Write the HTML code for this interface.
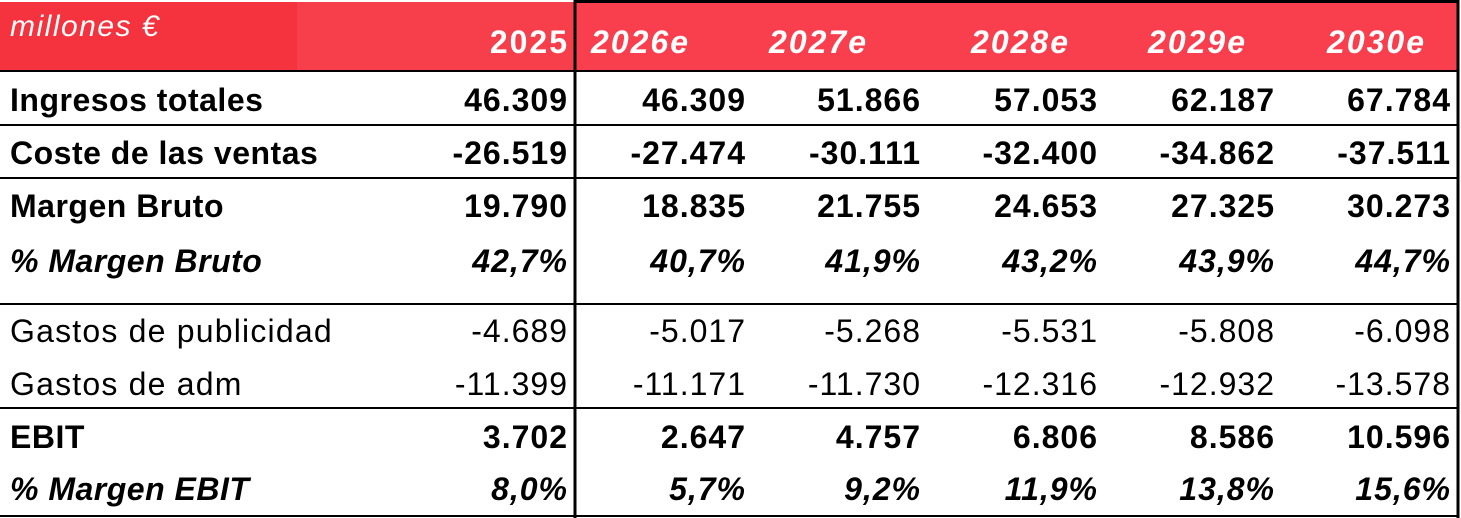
<!DOCTYPE html>
<html><head><meta charset="utf-8"><style>
body{margin:0;width:1461px;height:518px;background:#fff;overflow:hidden;font-family:"Liberation Sans",sans-serif}
</style></head><body>
<svg width="1461" height="518" style="display:block">
<rect x="0" y="2" width="297" height="69" fill="#F5333F"/>
<rect x="297" y="2" width="278" height="69" fill="#F73F4C"/>
<rect x="575" y="2" width="882" height="69" fill="#F93F4E"/>
<text x="10" y="36" font-size="30" font-style="italic" letter-spacing="1.5" fill="#fff">millones €</text>
<g id="hdr" font-size="32" font-weight="bold" font-style="italic" letter-spacing="2" fill="#fff" text-anchor="end"></g>
<g id="lines" stroke="#000"></g>
<g id="body" font-size="32" fill="#000"></g>
</svg>
<script>
const years=["2025","2026e","2027e","2028e","2029e","2030e"];
const labels=["Ingresos totales","Coste de las ventas","Margen Bruto","% Margen Bruto","Gastos de publicidad","Gastos de adm","EBIT","% Margen EBIT"];
const values=[
["46.309","46.309","51.866","57.053","62.187","67.784"],
["-26.519","-27.474","-30.111","-32.400","-34.862","-37.511"],
["19.790","18.835","21.755","24.653","27.325","30.273"],
["42,7%","40,7%","41,9%","43,2%","43,9%","44,7%"],
["-4.689","-5.017","-5.268","-5.531","-5.808","-6.098"],
["-11.399","-11.171","-11.730","-12.316","-12.932","-13.578"],
["3.702","2.647","4.757","6.806","8.586","10.596"],
["8,0%","5,7%","9,2%","11,9%","13,8%","15,6%"]];
const styles=["b","b","b","bi","n","n","b","bi"];
const rowY=[111,164,217,272,342,395,448,500];
const colX=[567,745,920,1097,1274,1450];
const hdrX=[567,688,866,1068,1245,1424];
const ns="http://www.w3.org/2000/svg";
const hdr=document.getElementById('hdr');
years.forEach((y,i)=>{const t=document.createElementNS(ns,'text');t.setAttribute('x',hdrX[i]+2);t.setAttribute('y',53);t.textContent=y;


if(i==0)t.setAttribute('font-style','normal');hdr.appendChild(t);});
const body=document.getElementById('body');
labels.forEach((l,r)=>{
 const st=styles[r];
 const mk=(x,txt,anchor,name,ls)=>{const t=document.createElementNS(ns,'text');t.setAttribute('x',x);t.setAttribute('y',rowY[r]);t.textContent=txt;
  if(anchor)t.setAttribute('text-anchor',anchor);
  if(st!='n')t.setAttribute('font-weight','bold');
  if(st=='bi')t.setAttribute('font-style','italic');
  t.setAttribute('letter-spacing',ls);
  
  
  body.appendChild(t);};
 mk(10,l,null,'row-label',st=='n'?1.2:0.5);
 values[r].forEach((v,c)=>mk(colX[c]+1,v,'end','cell-value',1));
});
const lines=document.getElementById('lines');
const ln=(x1,y1,x2,y2,w)=>{const e=document.createElementNS(ns,'line');e.setAttribute('x1',x1);e.setAttribute('y1',y1);e.setAttribute('x2',x2);e.setAttribute('y2',y2);e.setAttribute('stroke-width',w);
 
 
 lines.appendChild(e);};
[71,125,178,304,408].forEach(y=>ln(0,y,1459,y,2));
ln(0,516,1459,516,2);
ln(575,0,575,518,3);
ln(575,1.5,1459,1.5,3);
ln(1458,0,1458,518,3);
</script>
</body></html>
